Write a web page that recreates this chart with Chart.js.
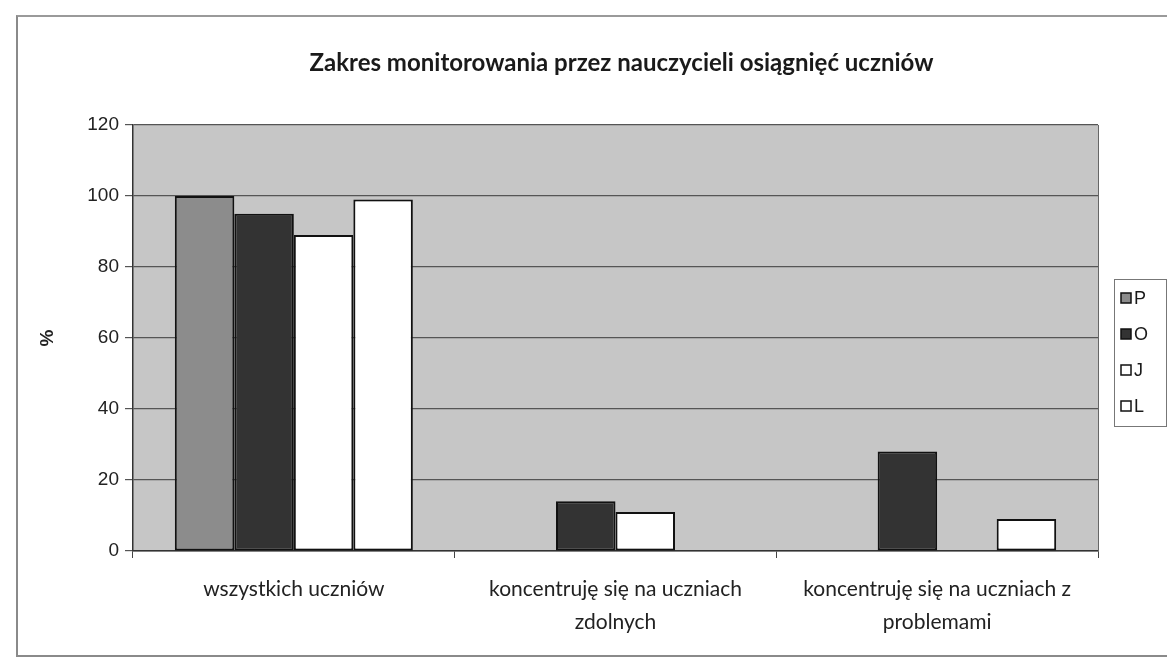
<!DOCTYPE html>
<html>
<head>
<meta charset="utf-8">
<script src="https://cdn.jsdelivr.net/npm/chart.js@4/dist/chart.umd.min.js"></script>
<style>
  html, body { margin: 0; padding: 0; background: #ffffff; overflow: hidden; }
  #wrap { position: relative; width: 1167px; height: 659px; }
  #frame { position: absolute; left: 16px; top: 15px; width: 1200px; height: 638px;
           border-left: 2px solid #8a8a8a; border-top: 2px solid #9a9a9a; border-bottom: 2px solid #8a8a8a; }
  canvas { position: absolute; left: 0; top: 0; }
</style>
</head>
<body>
<div id="wrap">
  <div id="frame"></div>
  <canvas id="c" width="1167" height="659"></canvas>
</div>
<script>
const chartTitle = 'Zakres monitorowania przez nauczycieli osiągnięć uczniów';
const categories = [
  ['wszystkich uczniów'],
  ['koncentruję się na uczniach', 'zdolnych'],
  ['koncentruję się na uczniach z', 'problemami']
];
const seriesNames = ['P', 'O', 'J', 'L'];
const valuesP = [100, 0, 0];
const valuesO = [95, 14, 28];
const valuesJ = [89, 11, 0];
const valuesL = [99, 0, 9];
const seriesColors = ['#8c8c8c', '#333333', '#ffffff', '#ffffff'];
const yTicks = [0, 20, 40, 60, 80, 100, 120];
const yAxisTitle = '%';

const seriesValues = [valuesP, valuesO, valuesJ, valuesL];

const plotBg = {
  id: 'plotBg',
  beforeDraw(chart) {
    const a = chart.chartArea, ctx = chart.ctx;
    ctx.save();
    ctx.fillStyle = '#c6c6c6';
    ctx.fillRect(a.left, a.top, a.right - a.left, a.bottom - a.top);
    ctx.restore();
  },
  afterDraw(chart) {
    const a = chart.chartArea, ctx = chart.ctx;
    ctx.save();
    ctx.strokeStyle = '#666';
    ctx.lineWidth = 1;
    ctx.beginPath();
    ctx.moveTo(a.right + 0.5, a.top);
    ctx.lineTo(a.right + 0.5, a.bottom);
    ctx.stroke();
    // title centred over plot area
    ctx.fillStyle = '#1a1a1a';
    ctx.font = 'bold 24px Lato, "Open Sans", sans-serif';
    ctx.textAlign = 'center';
    ctx.textBaseline = 'middle';
    ctx.fillText(chartTitle, (a.left + a.right) / 2 + 6, 63);
    // legend box
    const lx = 1114, ly = 279, lw = 52, lh = 147;
    ctx.fillStyle = '#ffffff';
    ctx.fillRect(lx, ly, lw, lh);
    ctx.strokeStyle = '#777';
    ctx.lineWidth = 1;
    ctx.strokeRect(lx + 0.5, ly + 0.5, lw, lh);
    chart.data.datasets.forEach((ds, i) => {
      const cy = ly + 19 + i * 36;
      ctx.fillStyle = ds.backgroundColor;
      ctx.fillRect(lx + 7, cy - 5, 10, 10);
      ctx.strokeStyle = '#111';
      ctx.lineWidth = 1.5;
      ctx.strokeRect(lx + 7, cy - 5, 10, 10);
      ctx.fillStyle = '#1a1a1a';
      ctx.font = '18px "Liberation Sans", Arial, sans-serif';
      ctx.textAlign = 'left';
      ctx.fillText(ds.label, lx + 20, cy + 1);
    });
    ctx.restore();
  }
};

new Chart(document.getElementById('c'), {
  type: 'bar',
  data: {
    labels: categories,
    datasets: seriesNames.map((n, i) => ({
      label: n,
      data: seriesValues[i],
      backgroundColor: seriesColors[i],
      borderColor: '#111111',
      borderWidth: 2,
      borderSkipped: false,
      categoryPercentage: 0.74,
      barPercentage: 1.0
    }))
  },
  options: {
    responsive: false,
    animation: false,
    events: [],
    layout: { padding: { left: 28, right: 69, top: 125, bottom: 8 } },
    plugins: { legend: { display: false }, title: { display: false }, tooltip: { enabled: false } },
    scales: {
      x: {
        offset: true,
        grid: { display: true, drawOnChartArea: false, offset: true, color: '#444', tickLength: 7 },
        border: { display: true, color: '#333', width: 1.5 },
        ticks: { color: '#222', font: { family: 'Lato, "Open Sans", sans-serif', size: 21, lineHeight: 1.55 }, padding: 15, maxRotation: 0, autoSkip: false },
        afterFit(s) { s.height = 100; }
      },
      y: {
        min: 0, max: 120,
        afterBuildTicks(s) { s.ticks = yTicks.map(v => ({ value: v })); },
        grid: { color: '#555', lineWidth: 1.2, tickLength: 8 },
        border: { display: true, color: '#333', width: 1.5 },
        ticks: { color: '#222', font: { family: '"Liberation Sans", Arial, sans-serif', size: 19 }, padding: 6 },
        title: { display: true, text: yAxisTitle, color: '#222', font: { family: '"Liberation Sans", Arial, sans-serif', size: 19, weight: 'bold' }, padding: { top: 8, bottom: 0 } },
        afterFit(s) { s.width = 105; }
      }
    }
  },
  plugins: [plotBg]
});
</script>
</body>
</html>
